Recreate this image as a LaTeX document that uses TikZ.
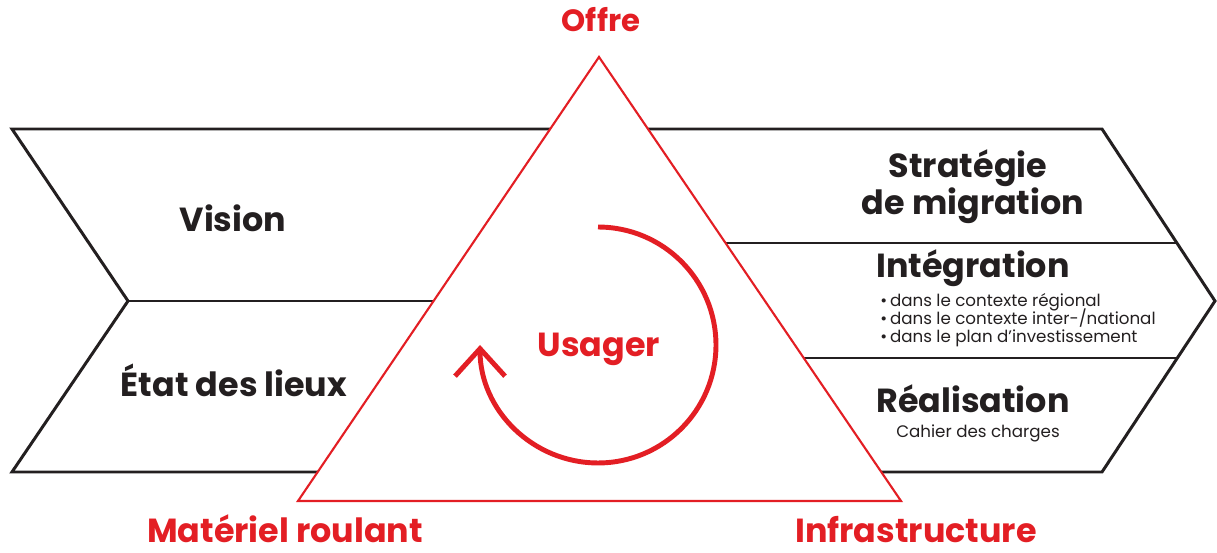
\documentclass[tikz,border=0pt]{standalone}
\usepackage{fontspec}
\setmainfont{Poppins}
\usetikzlibrary{arrows.meta, positioning, calc}
\definecolor{polered}{RGB}{227,30,36}
\definecolor{inkblack}{RGB}{35,31,32}

\begin{document}
\begin{tikzpicture}[
        x=0.02cm, y=-0.02cm,
        frame/.style={draw=inkblack, line width=1.7pt},
        corner/.style={draw=polered, line width=1.2pt, fill=white},
        loopline/.style={draw=polered, line width=2.8pt, -{Straight Barb[length=0.55cm, width=1cm]}},
        phase/.style={font=\bfseries\fontsize{19}{21}\selectfont, text=inkblack, anchor=base},
        pole/.style={font=\bfseries\fontsize{19}{21}\selectfont, text=polered, anchor=base, inner sep=0pt},
        detail/.style={font=\fontsize{9.5}{10.5}\selectfont, text=inkblack, anchor=base west, inner sep=0pt}
    ]
    \useasboundingbox (0,0) rectangle (1217,553);

    % Left chevron
    \draw[frame] (560,129) -- (12,129) -- (128,301) -- (12,472) -- (400,472);
    \draw[frame] (128,301) -- (480,301);

    % Right chevron
    \draw[frame] (640,129) -- (1102,129) -- (1215,301) -- (1102,472) -- (860,472);
    \draw[frame] (700,243) -- (1177,243);
    \draw[frame] (760,358) -- (1177,358);

    % Triangle
    \filldraw[corner] (599,57) -- (901,501) -- (298,501) -- cycle;

    % Cycle around the user
    \coordinate (hub) at (598,345);
    \draw[loopline] ($(hub)+(0,2.36cm)$) arc[start angle=90, end angle=-180, radius=2.36cm];

    % Corners of the triangle
    \node[pole, font=\bfseries\fontsize{17.5}{20}\selectfont] (offre) at (601,32) {Offre};
    \node[pole] (usager) at (599,357) {Usager};
    \node[pole] (materiel) at (285,542) {Matériel roulant};
    \node[pole] (infra) at (916,542) {Infrastructure};

    % Phases
    \node[phase] (vision) at (233,232) {Vision};
    \node[phase] (etat) at (234,397) {État des lieux};
    \node[phase] (strat) at (968,178) {Stratégie};
    \node[phase] (migr) at (973,215) {de migration};
    \node[phase] (integ) at (973,278) {Intégration};
    \node[phase] (real) at (973,413) {Réalisation};
    \node[detail, anchor=base] (cahier) at (978,438) {Cahier des charges};

    % Integration items
    \foreach \txt [count=\i] in {dans le contexte régional, dans le contexte inter-/national, dans le plan d’investissement}
        \node[detail] (item\i) at (880,{288+18.3*\i}) {\textbullet\,\txt};

\end{tikzpicture}
\end{document}
